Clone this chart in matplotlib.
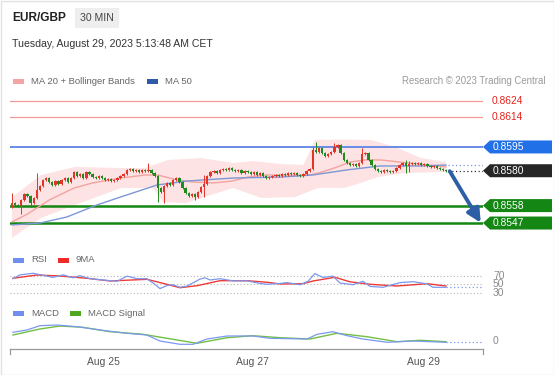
import matplotlib
matplotlib.use("Agg")
import matplotlib.pyplot as plt
import numpy as np
from matplotlib.patches import Polygon

plt.rcParams["font.family"] = ["Liberation Sans", "DejaVu Sans"]

W, H = 554, 375

# ── price data (30 min bars) ────────────────────────────────────────────────
first_open = 0.85571
closes = [
    0.85596, 0.85584, 0.85577, 0.85615, 0.85653, 0.85641, 0.85596, 0.85628, 0.85678, 0.85704,
    0.85742, 0.85754, 0.85729, 0.85710, 0.85735, 0.85716, 0.85742, 0.85754, 0.85729, 0.85754,
    0.85792, 0.85767, 0.85779, 0.85754, 0.85792, 0.85779, 0.85760, 0.85754, 0.85767, 0.85754,
    0.85742, 0.85748, 0.85735, 0.85742, 0.85754, 0.85767, 0.85779, 0.85805, 0.85811, 0.85798,
    0.85805, 0.85792, 0.85805, 0.85798, 0.85805, 0.85786, 0.85767, 0.85691, 0.85666, 0.85704,
    0.85723, 0.85710, 0.85742, 0.85754, 0.85729, 0.85691, 0.85659, 0.85641, 0.85653, 0.85634,
    0.85666, 0.85697, 0.85716, 0.85767, 0.85792, 0.85798, 0.85786, 0.85805, 0.85811, 0.85805,
    0.85817, 0.85805, 0.85798, 0.85805, 0.85786, 0.85798, 0.85792, 0.85779, 0.85792, 0.85773,
    0.85786, 0.85767, 0.85754, 0.85760, 0.85767, 0.85773, 0.85767, 0.85779, 0.85773, 0.85786,
    0.85779, 0.85786, 0.85773, 0.85767, 0.85779, 0.85798, 0.85811, 0.85931, 0.85918, 0.85943,
    0.85912, 0.85893, 0.85906, 0.85918, 0.85950, 0.85962, 0.85912, 0.85868, 0.85849, 0.85836,
    0.85842, 0.85830, 0.85849, 0.85906, 0.85912, 0.85868, 0.85836, 0.85811, 0.85798, 0.85792,
    0.85805, 0.85798, 0.85792, 0.85798, 0.85817, 0.85836, 0.85849, 0.85830, 0.85842, 0.85849,
    0.85842, 0.85849, 0.85836, 0.85842, 0.85830, 0.85824, 0.85830, 0.85817, 0.85811, 0.85805,
    0.85798,
]
# long wicks
wick_hi_idx = [0, 8, 44, 62, 97, 98, 104, 113, 127, 128]
wick_hi_val = [0.85659, 0.85786, 0.85849, 0.85773, 0.85950, 0.85981, 0.85975, 0.85943, 0.85868, 0.85862]
wick_lo_idx = [0, 3, 6, 47, 49, 59, 62, 127, 128]
wick_lo_val = [0.85571, 0.85527, 0.85571, 0.85603, 0.85596, 0.85615, 0.85634, 0.85786, 0.85792]

# ── moving averages / Bollinger bands (bar index, price) ────────────────────
ma20_idx = [0, 5, 12, 20, 26, 35, 43, 47, 52, 58, 65, 71, 76, 82, 90, 96, 100, 105, 109, 114, 119, 125, 131, 140]
ma20_val = [0.85477, 0.85527, 0.85615, 0.85691, 0.85723, 0.85754, 0.85773, 0.85773, 0.85748, 0.85729,
            0.85723, 0.85735, 0.85760, 0.85773, 0.85773, 0.85773, 0.85792, 0.85824, 0.85855, 0.85868,
            0.85868, 0.85855, 0.85842, 0.85824]
ma50_idx = [0, 9, 17.7, 27.4, 37, 46.8, 56.5, 71.3, 86.5, 97, 108, 118.7, 131.6, 140]
ma50_val = [0.85458, 0.85470, 0.85508, 0.85584, 0.85647, 0.85710, 0.85735, 0.85754, 0.85760, 0.85773,
            0.85805, 0.85830, 0.85830, 0.85836]
bb_up_idx = [0, 1, 9.4, 20.3, 35.2, 43, 50.3, 61, 71.3, 77.6, 87, 94, 97.7, 107, 115.8, 123.5, 132, 140]
bb_up_val = [0.85615, 0.85647, 0.85773, 0.85824, 0.85817, 0.85817, 0.85868, 0.85880, 0.85849, 0.85861,
             0.85842, 0.85836, 0.85994, 0.85997, 0.85994, 0.85950, 0.85880, 0.85855]
bb_lo_idx = [0, 9.4, 20.3, 35.2, 45.5, 48.7, 56, 61, 71.3, 80.5, 91.3, 98.7, 107, 110.5, 118, 126.8, 140]
bb_lo_val = [0.85376, 0.85502, 0.85584, 0.85691, 0.85691, 0.85603, 0.85596, 0.85628, 0.85691, 0.85628,
             0.85634, 0.85691, 0.85691, 0.85710, 0.85760, 0.85786, 0.85792]

# ── key levels ───────────────────────────────────────────────────────────────
resistances = [0.8624, 0.8614]
pivot = 0.8595
last_price = 0.8580
supports = [0.8558, 0.8547]

# ── RSI / MACD ───────────────────────────────────────────────────────────────
rsi_idx = [0.3, 2.6, 6.8, 10, 13.2, 16.5, 19.7, 21.9, 25.2, 29.4, 33.9, 37.1, 40.3, 43.5, 46.1, 47.7,
           50, 51.9, 54.2, 56.5, 60.6, 62.3, 63.9, 67.1, 71.3, 75.8, 80, 82.3, 86.5, 88.7, 92.9, 95.5,
           97.7, 100.3, 103.5, 105.8, 110, 113.2, 115.5, 119.7, 125.2, 129.4, 133.9, 135.8, 140]
rsi_val = [63, 72, 75.6, 71, 66, 72, 65, 70, 63, 60, 57, 69, 63, 63, 50, 40,
           47, 49, 43, 46, 62, 65, 60, 63, 58, 58, 52, 50, 52, 54, 49, 57,
           75, 66, 69, 53, 49, 57, 45, 43, 54, 56, 51, 43, 43]
rsi_ma_idx = [0.3, 8.1, 15.5, 24.2, 31.6, 43.5, 48.7, 54.2, 59.7, 67.1, 75.8, 82.3, 86.5, 93.9, 97.1,
              104.2, 109, 115.5, 124.2, 133.9, 140]
rsi_ma_val = [64, 71.6, 69.3, 64, 57.7, 61.6, 52.3, 42, 46.7, 58.4, 58.4, 54.7, 50.7, 51.4, 57.7,
              66.3, 55.8, 50, 46, 51.4, 46]
rsi_levels = [70, 50, 30]

macd_idx = [0.3, 4.8, 9, 14.5, 21, 28.4, 37.1, 43.5, 47.7, 54.2, 58.4, 62.9, 69.4, 77.7, 83.2, 95.2,
            98.4, 103.5, 108.1, 113.2, 121, 129.4, 140]
macd_val = [1.74, 2.2, 3.06, 3.2, 2.86, 2.2, 1.54, 1.2, 0.0, -0.66, -0.66, 0.4, 1.0, 1.0, 0.54, 0.4,
            1.34, 1.86, 1.06, 0.4, -0.26, 0.0, -0.26]
sig_idx = [0.3, 9, 15.5, 22.9, 31.6, 42.3, 50, 59.7, 69.4, 77.7, 86.5, 96.1, 104.8, 114.5, 124.2, 131.6, 140]
sig_val = [1.2, 2.4, 3.0, 2.74, 1.86, 1.34, 0.54, -0.46, 0.66, 1.06, 0.66, 0.4, 1.54, 0.86, -0.14, 0.14, -0.14]

date_ticks = [29.4, 77.4, 132.9]
date_labels = ["Aug 25", "Aug 27", "Aug 29"]

# colours
UP, DOWN = "#e3342c", "#1f8a1f"
GREEN = "#138613"
BLUE_LVL = "#5f84e6"
GREY_TXT = "#666666"


def px_axes(fig, x0, ytop, x1, ybot):
    return fig.add_axes([x0 / W, (H - ybot) / H, (x1 - x0) / W, (ybot - ytop) / H])


fig = plt.figure(figsize=(W / 100, H / 100), dpi=100)
fig.patch.set_facecolor("white")

xlim = (-0.645, 151.935)

# ── main price panel ─────────────────────────────────────────────────────────
ax = px_axes(fig, 10, 90, 483, 242)
ax.set_xlim(*xlim)
ax.set_ylim(0.853503, 0.863094)
ax.axis("off")

ax.fill(np.r_[bb_up_idx, bb_lo_idx[::-1]], np.r_[bb_up_val, bb_lo_val[::-1]],
        color="#fde3e3", lw=0, zorder=1)
ax.plot(ma20_idx, ma20_val, color="#f3a3a0", lw=1.0, zorder=2)
ax.plot(ma50_idx, ma50_val, color="#7d97d6", lw=1.0, zorder=2)

for lv in resistances:
    ax.axhline(lv, color="#f39a94", lw=0.9, zorder=1.5)
ax.axhline(pivot, color=BLUE_LVL, lw=1.3, zorder=1.5)
for lv in supports:
    ax.axhline(lv, color=GREEN, lw=1.8, zorder=1.5)

closes_a = np.array(closes)
n = len(closes_a)
idx = np.arange(n)
opens = np.r_[first_open, closes_a[:-1]]
highs = np.maximum(opens, closes_a) + 0.00004
lows = np.minimum(opens, closes_a) - 0.00004
for i, v in zip(wick_hi_idx, wick_hi_val):
    highs[i] = max(highs[i], v)
for i, v in zip(wick_lo_idx, wick_lo_val):
    lows[i] = min(lows[i], v)
cols = [UP if c >= o else DOWN for o, c in zip(opens, closes_a)]
body = np.maximum(np.abs(closes_a - opens), 0.00006)
ax.vlines(idx, lows, highs, colors=cols, lw=0.7, zorder=3)
ax.bar(idx, body, bottom=np.minimum(opens, closes_a), width=0.72, color=cols, lw=0, zorder=4)

# dotted extensions to the right
ax.plot([n - 0.5, xlim[1]], [ma50_val[-1], ma50_val[-1]], color="#7d97d6", lw=0.9, ls=(0, (1, 2)))
ax.plot([n - 0.5, xlim[1]], [last_price, last_price], color="#333333", lw=0.9, ls=(0, (1, 2)))

# forecast arrow
ax.annotate("", xy=(151.2, supports[1] + 0.00002), xytext=(n + 0.2, last_price - 0.00003),
            arrowprops=dict(arrowstyle="-|>,head_length=0.8,head_width=0.4", color="#2d5fa6",
                            lw=2.8, shrinkA=0, shrinkB=0), zorder=6)

# ── RSI panel ────────────────────────────────────────────────────────────────
ax_rsi = px_axes(fig, 10, 266, 483, 300)
ax_rsi.set_xlim(*xlim)
ax_rsi.set_ylim(13.4, 92.6)
ax_rsi.axis("off")
for lv in rsi_levels:
    ax_rsi.axhline(lv, color="#b5b5b5", lw=0.8, ls=(0, (1, 2)))
ax_rsi.plot(rsi_ma_idx, rsi_ma_val, color="#ee3a36", lw=1.0, zorder=2)
ax_rsi.plot(rsi_idx, rsi_val, color="#7b98ee", lw=0.9, zorder=3)
ax_rsi.plot([rsi_idx[-1], xlim[1]], [rsi_val[-1], rsi_val[-1]], color="#7b98ee", lw=0.9, ls=(0, (1, 2)))

# ── MACD panel ───────────────────────────────────────────────────────────────
ax_macd = px_axes(fig, 10, 318, 483, 349)
ax_macd.set_xlim(*xlim)
ax_macd.set_ylim(-1.6, 4.6)
for side in ("top", "left", "right"):
    ax_macd.spines[side].set_visible(False)
ax_macd.spines["bottom"].set_color("#9a9a9a")
ax_macd.spines["bottom"].set_linewidth(0.9)
ax_macd.set_yticks([])
ax_macd.set_xticks(date_ticks)
ax_macd.set_xticklabels(date_labels, fontsize=7.5, color="#555555")
ax_macd.tick_params(axis="x", length=0, pad=6)
ax_macd.axvline(xlim[0] + 0.15, ymin=-0.15, ymax=0, color="#9a9a9a", lw=0.9, clip_on=False)
ax_macd.axvline(xlim[1] - 0.15, ymin=-0.15, ymax=0, color="#9a9a9a", lw=0.9, clip_on=False)
ax_macd.plot(sig_idx, sig_val, color="#72bf44", lw=1.0, zorder=2)
ax_macd.plot(macd_idx, macd_val, color="#7b98ee", lw=0.9, zorder=3)
ax_macd.plot([macd_idx[-1], xlim[1]], [macd_val[-1], macd_val[-1]], color="#7b98ee", lw=0.9, ls=(0, (1, 2)))

# ── overlay in pixel coordinates for header, legends and labels ─────────────
ov = fig.add_axes([0, 0, 1, 1], zorder=10)
ov.set_xlim(0, W)
ov.set_ylim(H, 0)
ov.axis("off")
ov.patch.set_alpha(0)
ov.add_patch(plt.Rectangle((0.5, 0.5), W - 1, H - 1, fill=False, ec="#e2e2e2", lw=1))


def to_px(axis, yval):
    disp = axis.transData.transform((0, yval))
    return ov.transData.inverted().transform(disp)[1]


ov.text(12, 18, "EUR/GBP", fontsize=8.6, fontweight="bold", color="#222222", va="center")
ov.text(80, 18, "30 MIN", fontsize=7.6, color="#444444", va="center",
        bbox=dict(boxstyle="square,pad=0.45", fc="#eeeeee", ec="none"))
ov.text(12, 44, "Tuesday, August 29, 2023 5:13:48 AM CET", fontsize=7.6, color="#333333", va="center")


def legend_item(x, y, color, label):
    ov.add_patch(plt.Rectangle((x, y - 2.5), 11, 5, fc=color, ec="none"))
    ov.text(x + 18, y, label, fontsize=6.8, color=GREY_TXT, va="center")


legend_item(13, 81, "#f5a3a3", "MA 20 + Bollinger Bands")
legend_item(147, 81, "#2e5aa8", "MA 50")
ov.text(546, 81, "Research \u00a9 2023 Trading Central", fontsize=6.9, color="#9a9a9a", va="center", ha="right")
legend_item(13, 260, "#6f8ff0", "RSI")
legend_item(58, 260, "#ee2a2a", "9MA")
legend_item(13, 313, "#6f8ff0", "MACD")
legend_item(70, 313, "#4fa81f", "MACD Signal")

for lv in resistances:
    ov.text(492, to_px(ax, lv), f"{lv:.4f}", fontsize=7.4, color="#e8231b", va="center")


def price_box(price, color):
    y = to_px(ax, price)
    ov.add_patch(Polygon([(483, y), (490, y - 6.5), (552, y - 6.5), (552, y + 6.5), (490, y + 6.5)],
                         closed=True, fc=color, ec="none"))
    ov.text(493, y, f"{price:.4f}", fontsize=7.4, color="white", va="center")


price_box(pivot, "#2170e8")
price_box(last_price, "#262626")
for lv in supports:
    price_box(lv, GREEN)

for lv in rsi_levels:
    ov.text(493, to_px(ax_rsi, lv), str(lv), fontsize=7.4, color="#8a8a8a", va="center")
ov.text(493, to_px(ax_macd, 0), "0", fontsize=7.4, color="#8a8a8a", va="center")

fig.savefig("out.png", dpi=100)
